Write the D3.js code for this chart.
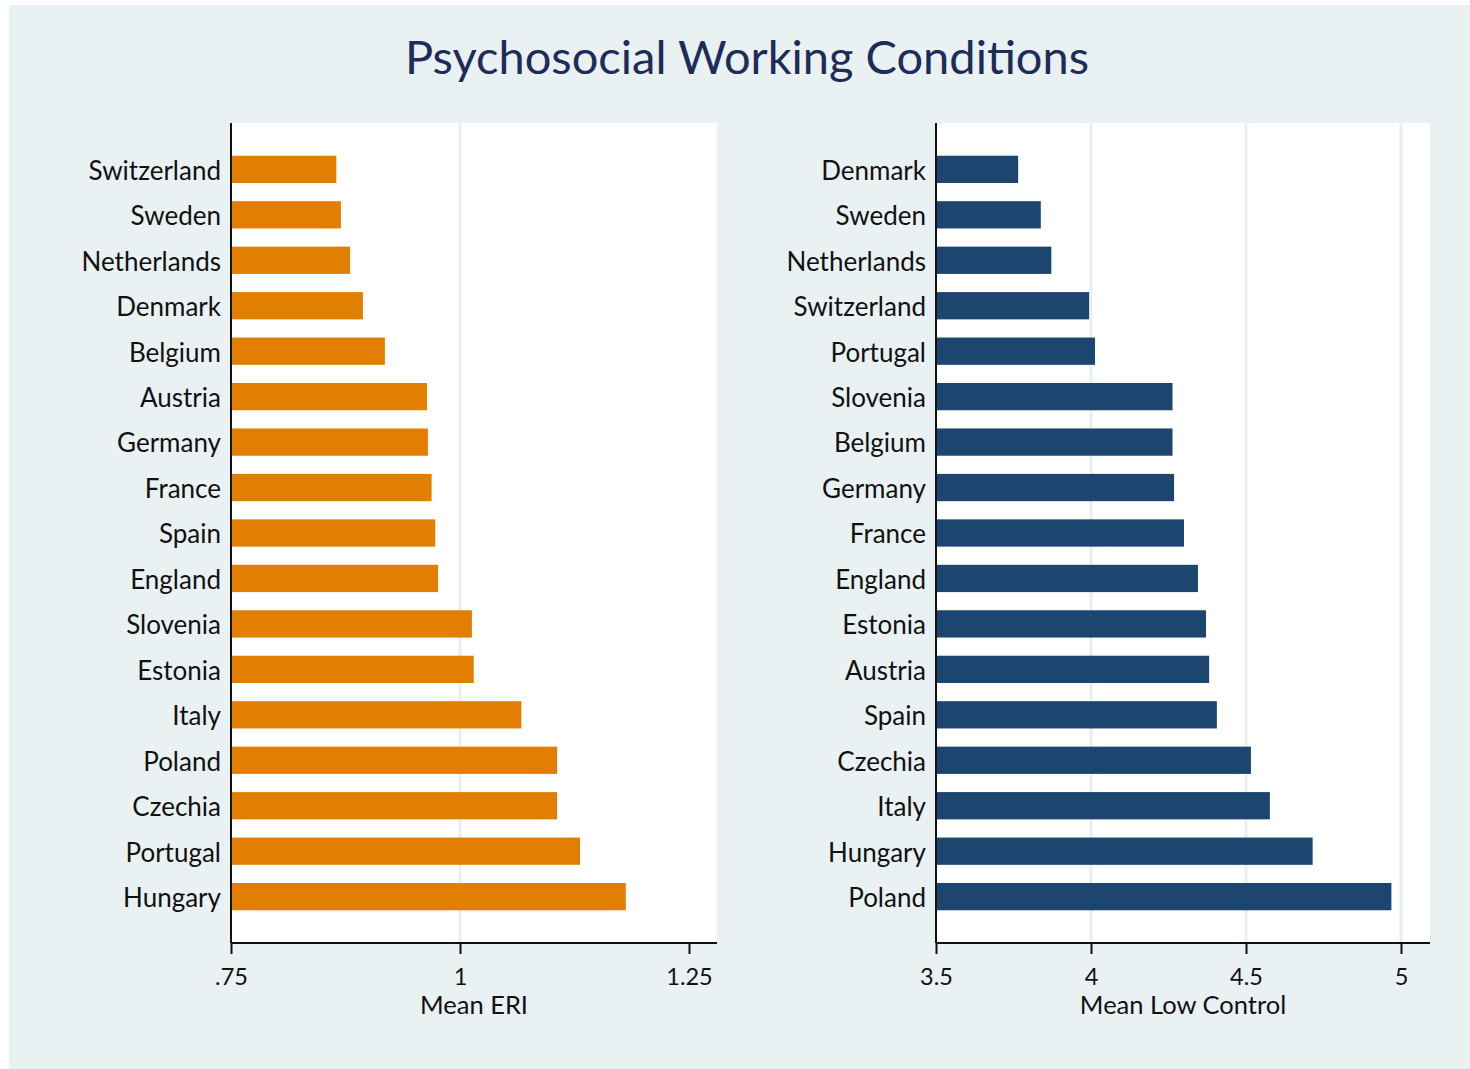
<!DOCTYPE html>
<meta charset="utf-8">
<style>
    body { margin: 0; background: #fff; }
    text { font-family: Lato, "Open Sans", sans-serif; fill: #111; }
    .grid line { stroke: #e6eff2; stroke-width: 3px; }
    .axis path, .axis line { stroke: #111; stroke-width: 2px; }
</style>

<body>
    <script src="https://d3js.org/d3.v7.min.js"></script>
    <script>
        // left panel: effort-reward imbalance
        var eriCountries = ["Switzerland", "Sweden", "Netherlands", "Denmark", "Belgium", "Austria",
            "Germany", "France", "Spain", "England", "Slovenia", "Estonia", "Italy", "Poland",
            "Czechia", "Portugal", "Hungary"];
        var eriValues = [0.865, 0.870, 0.880, 0.894, 0.918, 0.964, 0.965, 0.969, 0.973, 0.976,
            1.013, 1.015, 1.067, 1.106, 1.106, 1.131, 1.181];
        var eriTicks = [0.75, 1, 1.25];
        var eriTickLabels = [".75", "1", "1.25"];
        var eriGrid = [1];

        // right panel: low control
        var ctrlCountries = ["Denmark", "Sweden", "Netherlands", "Switzerland", "Portugal", "Slovenia",
            "Belgium", "Germany", "France", "England", "Estonia", "Austria", "Spain", "Czechia",
            "Italy", "Hungary", "Poland"];
        var ctrlValues = [3.765, 3.838, 3.872, 3.994, 4.013, 4.263, 4.263, 4.268, 4.300, 4.345,
            4.371, 4.381, 4.406, 4.516, 4.577, 4.715, 4.969];
        var ctrlTicks = [3.5, 4, 4.5, 5];
        var ctrlTickLabels = ["3.5", "4", "4.5", "5"];
        var ctrlGrid = [4, 4.5, 5];

        var width = 1470,
            height = 1069;

        var svg = d3.select("body").append("svg")
            .attr("width", width)
            .attr("height", height);

        svg.append("rect")
            .attr("x", 9).attr("y", 5)
            .attr("width", width - 9).attr("height", height - 5)
            .attr("fill", "#eaf1f3");

        svg.append("text")
            .attr("x", 747).attr("y", 74)
            .attr("text-anchor", "middle")
            .style("font-size", "47px")
            .style("fill", "#1b2d58")
            .text("Psychosocial Working Conditions");

        function panel(opts) {
            var x = d3.scaleLinear().domain(opts.domain).range([opts.x0, opts.x0 + opts.pxPerUnit * (opts.domain[1] - opts.domain[0])]);
            var y = d3.scaleBand()
                .domain(opts.countries)
                .range([123, 943])
                .paddingInner(0.4)
                .paddingOuter(0.72);

            var g = svg.append("g");

            g.append("rect")
                .attr("x", opts.x0).attr("y", 123)
                .attr("width", opts.x1 - opts.x0).attr("height", 820)
                .attr("fill", "#fff");

            g.append("g").attr("class", "grid")
                .selectAll("line")
                .data(opts.grid)
                .enter().append("line")
                .attr("x1", function (d) { return x(d); })
                .attr("x2", function (d) { return x(d); })
                .attr("y1", 123).attr("y2", 943);

            g.selectAll("rect.bar")
                .data(opts.values)
                .enter().append("rect")
                .attr("class", "bar")
                .attr("x", x(opts.domain[0]))
                .attr("y", function (d, i) { return y(opts.countries[i]); })
                .attr("width", function (d) { return x(d) - x(opts.domain[0]); })
                .attr("height", y.bandwidth())
                .attr("fill", opts.color);

            g.selectAll("text.label")
                .data(opts.countries)
                .enter().append("text")
                .attr("class", "label")
                .attr("x", opts.x0 - 10)
                .attr("y", function (d) { return y(d) + y.bandwidth() / 2; })
                .attr("dy", "0.4em")
                .attr("text-anchor", "end")
                .style("font-size", "26px")
                .text(function (d) { return d; });

            // left axis line
            g.append("line")
                .attr("x1", opts.x0).attr("x2", opts.x0)
                .attr("y1", 123).attr("y2", 943)
                .attr("stroke", "#111").attr("stroke-width", 2);

            var axis = d3.axisBottom(x)
                .tickValues(opts.ticks)
                .tickFormat(function (d, i) { return opts.tickLabels[i]; })
                .tickSize(11)
                .tickSizeOuter(0)
                .tickPadding(14);

            var ax = g.append("g").attr("class", "axis")
                .attr("transform", "translate(0,943)")
                .call(axis);
            ax.select(".domain").attr("d", "M" + opts.x0 + ",0H" + opts.x1);
            ax.selectAll("text").style("font-size", "23.5px").style("fill", "#111");

            g.append("text")
                .attr("x", (opts.x0 + opts.x1) / 2)
                .attr("y", 1014)
                .attr("text-anchor", "middle")
                .style("font-size", "25.5px")
                .text(opts.title);
        }

        panel({
            countries: eriCountries, values: eriValues, ticks: eriTicks, tickLabels: eriTickLabels,
            grid: eriGrid, domain: [0.75, 1.3], x0: 231, x1: 717, pxPerUnit: 916,
            color: "#e37f00", title: "Mean ERI"
        });

        panel({
            countries: ctrlCountries, values: ctrlValues, ticks: ctrlTicks, tickLabels: ctrlTickLabels,
            grid: ctrlGrid, domain: [3.5, 5.1], x0: 936, x1: 1430, pxPerUnit: 310,
            color: "#1c466f", title: "Mean Low Control"
        });
    </script>
</body>
